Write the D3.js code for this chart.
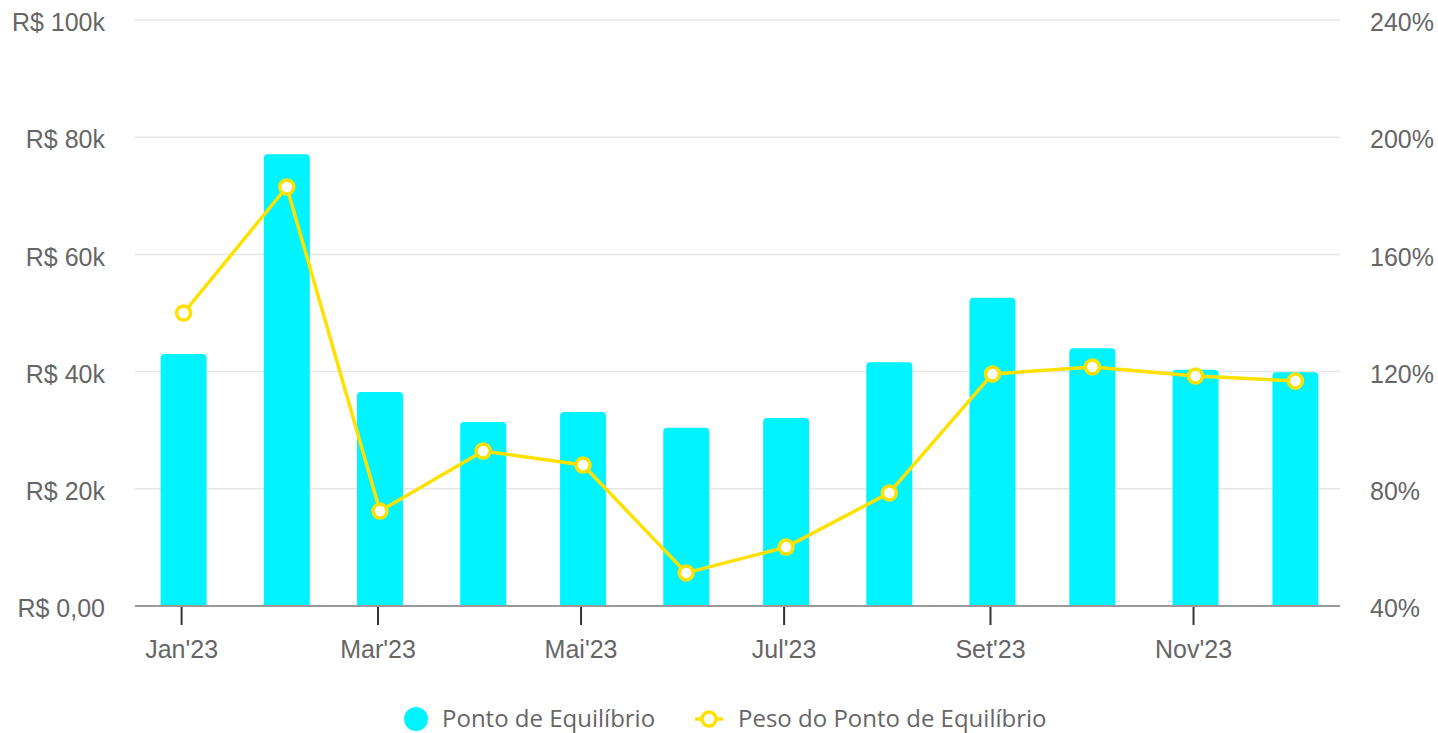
<!DOCTYPE html>
<html>
<head>
<meta charset="utf-8">
<script src="https://cdn.jsdelivr.net/npm/d3@7"></script>
<style>
  body { margin: 0; background: #fff; }
  svg { display: block; }
</style>
</head>
<body>
<svg width="1438" height="733"></svg>
<script>
// months of 2023 (first day of each)
var months = ["2023-01-01", "2023-02-01", "2023-03-01", "2023-04-01", "2023-05-01", "2023-06-01",
              "2023-07-01", "2023-08-01", "2023-09-01", "2023-10-01", "2023-11-01", "2023-12-01"];
var monthNames = ["Jan", "Fev", "Mar", "Abr", "Mai", "Jun", "Jul", "Ago", "Set", "Out", "Nov", "Dez"];
// Ponto de Equilíbrio (R$)
var ponto = [43000, 77100, 36500, 31400, 33100, 30400, 32100, 41600, 52600, 44000, 40300, 39900];
// Peso do Ponto de Equilíbrio (%)
var peso = [140, 183, 72.4, 92.9, 88.1, 51.3, 60.1, 78.6, 119.2, 121.6, 118.5, 116.8];
var leftTicks = [0, 20000, 40000, 60000, 80000, 100000];
var leftLabels = ["R$ 0,00", "R$ 20k", "R$ 40k", "R$ 60k", "R$ 80k", "R$ 100k"];
var rightTicks = [40, 80, 120, 160, 200, 240];
var seriesNames = ["Ponto de Equilíbrio", "Peso do Ponto de Equilíbrio"];

var barColor = "#00f4ff", lineColor = "#ffe100";

var svg = d3.select("svg");
var plotLeft = 135, plotRight = 1340, plotTop = 20, plotBottom = 606;

var dates = months.map(function(d) { return new Date(d + "T00:00:00Z"); });
var x = d3.scaleUtc()
          .domain([d3.utcDay.offset(dates[0], -14), d3.utcDay.offset(dates[dates.length - 1], 14)])
          .range([plotLeft, plotRight]);
var yL = d3.scaleLinear().domain([0, 100000]).range([plotBottom, plotTop]);
var yR = d3.scaleLinear().domain([40, 240]).range([plotBottom, plotTop]);

// gridlines
svg.append("g")
   .selectAll("line")
   .data(leftTicks.slice(1))
   .enter().append("line")
   .attr("x1", plotLeft).attr("x2", plotRight)
   .attr("y1", function(d) { return yL(d); })
   .attr("y2", function(d) { return yL(d); })
   .attr("stroke", "#e6e6e6")
   .attr("stroke-width", 1.5);

// left labels
svg.append("g")
   .selectAll("text")
   .data(leftTicks)
   .enter().append("text")
   .attr("x", 105)
   .attr("y", function(d) { return yL(d); })
   .attr("dy", "0.45em")
   .attr("text-anchor", "end")
   .attr("font-family", "Liberation Sans, Arial, sans-serif")
   .attr("font-size", 25)
   .attr("fill", "#666")
   .text(function(d, i) { return leftLabels[i]; });

// right labels
svg.append("g")
   .selectAll("text")
   .data(rightTicks)
   .enter().append("text")
   .attr("x", 1370)
   .attr("y", function(d) { return yR(d); })
   .attr("dy", "0.45em")
   .attr("font-family", "Liberation Sans, Arial, sans-serif")
   .attr("font-size", 25)
   .attr("fill", "#666")
   .text(function(d) { return d + "%"; });

// bars with rounded tops (centred a little right of the month tick)
var bw = 46, r = 4, shift = 2;
svg.append("g")
   .selectAll("path")
   .data(ponto)
   .enter().append("path")
   .attr("fill", barColor)
   .attr("d", function(d, i) {
       var cx = x(dates[i]) + shift, x0 = cx - bw / 2, x1 = cx + bw / 2, y0 = yL(d), yb = yL(0);
       return "M" + x0 + "," + yb + "V" + (y0 + r) + "Q" + x0 + "," + y0 + " " + (x0 + r) + "," + y0 +
              "H" + (x1 - r) + "Q" + x1 + "," + y0 + " " + x1 + "," + (y0 + r) + "V" + yb + "Z";
   });

// x axis baseline and ticks
svg.append("line")
   .attr("x1", plotLeft).attr("x2", plotRight)
   .attr("y1", plotBottom).attr("y2", plotBottom)
   .attr("stroke", "#999")
   .attr("stroke-width", 2);

var tickDates = dates.filter(function(d, i) { return i % 2 == 0; });
var xt = svg.append("g")
            .selectAll("g")
            .data(tickDates)
            .enter().append("g")
            .attr("transform", function(d) { return "translate(" + x(d) + ",0)"; });
xt.append("line")
  .attr("y1", plotBottom + 1).attr("y2", plotBottom + 19)
  .attr("stroke", "#333")
  .attr("stroke-width", 2);
xt.append("text")
  .attr("y", 658)
  .attr("text-anchor", "middle")
  .attr("font-family", "Liberation Sans, Arial, sans-serif")
  .attr("font-size", 25)
  .attr("fill", "#666")
  .text(function(d) { return monthNames[d.getUTCMonth()] + "'" + String(d.getUTCFullYear()).slice(2); });

// line
var line = d3.line()
             .x(function(d, i) { return x(dates[i]) + shift; })
             .y(function(d) { return yR(d); });
svg.append("path")
   .datum(peso)
   .attr("d", line)
   .attr("fill", "none")
   .attr("stroke", lineColor)
   .attr("stroke-width", 3.5)
   .attr("stroke-linejoin", "round");

svg.append("g")
   .selectAll("circle")
   .data(peso)
   .enter().append("circle")
   .attr("cx", function(d, i) { return x(dates[i]) + shift; })
   .attr("cy", function(d) { return yR(d); })
   .attr("r", 7)
   .attr("fill", "#fff")
   .attr("stroke", lineColor)
   .attr("stroke-width", 3.5);

// legend
var legend = svg.append("g").attr("font-family", "Open Sans, Noto Sans, sans-serif").attr("font-size", 24).attr("fill", "#666");
legend.append("circle").attr("cx", 416).attr("cy", 719).attr("r", 12).attr("fill", barColor);
legend.append("text").attr("x", 442).attr("y", 727).text(seriesNames[0]);
legend.append("line").attr("x1", 695).attr("x2", 723).attr("y1", 719).attr("y2", 719)
      .attr("stroke", lineColor).attr("stroke-width", 3.5);
legend.append("circle").attr("cx", 709).attr("cy", 719).attr("r", 7)
      .attr("fill", "#fff").attr("stroke", lineColor).attr("stroke-width", 3.5);
legend.append("text").attr("x", 738).attr("y", 727).text(seriesNames[1]);
</script>
</body>
</html>
